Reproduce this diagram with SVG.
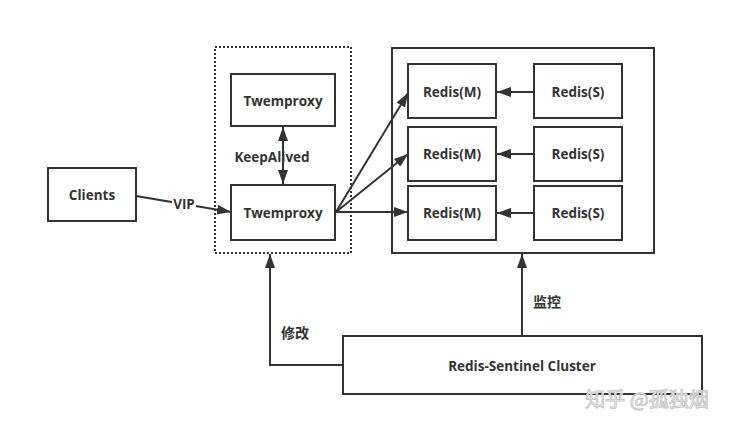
<svg xmlns="http://www.w3.org/2000/svg" width="734" height="427" viewBox="0 0 734 427">
<style>
.box{fill:#fff;stroke:#333;stroke-width:2}
.t{font-family:"Open Sans","Noto Sans CJK SC",sans-serif;font-weight:bold;font-size:13.5px;fill:#333;text-anchor:middle;dominant-baseline:central}
.c{font-family:"Noto Sans CJK SC",sans-serif;font-weight:bold;font-size:14px;fill:#333;text-anchor:middle;dominant-baseline:central}
.ln{fill:none;stroke:#333;stroke-width:2}
</style>
<defs>
<marker id="ah" viewBox="0 0 14 10" refX="14" refY="5" markerWidth="14" markerHeight="10" markerUnits="userSpaceOnUse" orient="auto-start-reverse">
<path d="M0,0 L14,5 L0,10 z" fill="#333"/>
</marker>
</defs>
<rect width="734" height="427" fill="#fff"/>
<g id="proxy-group"><rect x="215" y="47" width="136" height="206" fill="none" stroke="#333" stroke-width="2" stroke-dasharray="2,2"/></g>
<g id="redis-group"><rect x="392" y="48" width="262" height="205" class="box"/></g>
<g id="connectors">
<line x1="283" y1="127" x2="283" y2="184" class="ln" marker-start="url(#ah)" marker-end="url(#ah)"/>
<line x1="136" y1="196" x2="231" y2="212" class="ln" marker-end="url(#ah)"/>
<line x1="336" y1="212" x2="408" y2="93" class="ln" marker-end="url(#ah)"/>
<line x1="336" y1="212" x2="408" y2="154" class="ln" marker-end="url(#ah)"/>
<line x1="336" y1="212" x2="408" y2="212" class="ln" marker-end="url(#ah)"/>
<line x1="534" y1="92" x2="497" y2="92" class="ln" marker-end="url(#ah)"/>
<line x1="534" y1="154" x2="497" y2="154" class="ln" marker-end="url(#ah)"/>
<line x1="534" y1="213" x2="497" y2="213" class="ln" marker-end="url(#ah)"/>
<polyline points="343,365 270,365 270,254" class="ln" marker-end="url(#ah)"/>
<line x1="522" y1="336" x2="522" y2="254" class="ln" marker-end="url(#ah)"/>
</g>
<text x="272" y="157" class="t">KeepAlived</text>
<rect x="172" y="197" width="24" height="15" fill="#fff"/>
<text x="184" y="204" class="t">VIP</text>
<text x="295" y="332" class="c">修改</text>
<text x="547" y="301" class="c">监控</text>
<g id="clients"><rect x="48" y="168" width="88" height="53" class="box"/><text x="92" y="195" class="t">Clients</text></g>
<g id="twemproxy1"><rect x="231" y="74" width="104" height="52" class="box"/><text x="283" y="101" class="t">Twemproxy</text></g>
<g id="twemproxy2"><rect x="231" y="185" width="104" height="55" class="box"/><text x="283" y="213" class="t">Twemproxy</text></g>
<g id="redis-m1"><rect x="408" y="64" width="88" height="54" class="box"/><text x="452" y="92" class="t">Redis(M)</text></g>
<g id="redis-m2"><rect x="408" y="127" width="88" height="54" class="box"/><text x="452" y="154" class="t">Redis(M)</text></g>
<g id="redis-m3"><rect x="408" y="186" width="88" height="54" class="box"/><text x="452" y="213" class="t">Redis(M)</text></g>
<g id="redis-s1"><rect x="534" y="64" width="88" height="54" class="box"/><text x="578" y="92" class="t">Redis(S)</text></g>
<g id="redis-s2"><rect x="534" y="127" width="88" height="54" class="box"/><text x="578" y="154" class="t">Redis(S)</text></g>
<g id="redis-s3"><rect x="534" y="186" width="88" height="54" class="box"/><text x="578" y="213" class="t">Redis(S)</text></g>
<g id="sentinel"><rect x="343" y="336" width="359" height="58" class="box"/><text x="522" y="366" class="t">Redis-Sentinel Cluster</text></g>
<text x="647" y="398" font-family="Noto Sans CJK SC,sans-serif" font-size="20" fill="#fff" stroke="#c8c8c8" stroke-width="1" text-anchor="middle" dominant-baseline="central">知乎 @孤独烟</text>
</svg>
